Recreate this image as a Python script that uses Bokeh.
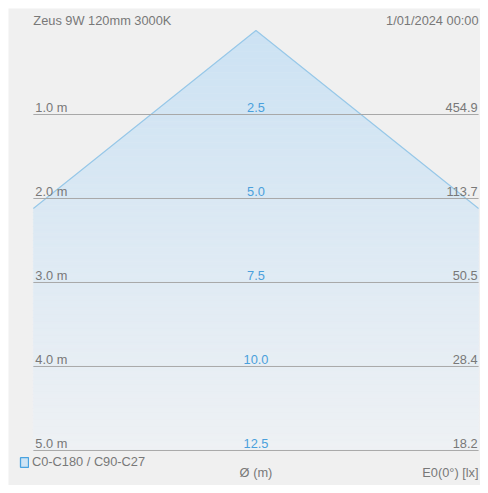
from bokeh.plotting import figure
from bokeh.models import Range1d, Label, ColumnDataSource, Legend, LegendItem
from bokeh.embed import file_html
from bokeh.resources import INLINE
from bokeh.core.properties import value

# ---- data ----
title = "Zeus 9W 120mm 3000K"
date_text = "1/01/2024 00:00"
distances = [1.0, 2.0, 3.0, 4.0, 5.0]                 # m
diameters = [2.5, 5.0, 7.5, 10.0, 12.5]               # Ø (m)
illuminance = [454.9, 113.7, 50.5, 28.4, 18.2]        # E0(0°) [lx]
distance_labels = ["1.0 m", "2.0 m", "3.0 m", "4.0 m", "5.0 m"]
diameter_labels = ["2.5", "5.0", "7.5", "10.0", "12.5"]
illum_labels = ["454.9", "113.7", "50.5", "28.4", "18.2"]
series_name = "C0-C180 / C90-C27"
x_axis_label = "Ø (m)"
y_axis_label = "E0(0°) [lx]"

# ---- layout ----
W = 2.65          # half width of drawing area (m)
FONT = "Liberation Sans"
FS = "12.8px"
BG = "#f0f0f0"
GREY = "#787878"

p = figure(width=472, height=477, output_backend="svg", toolbar_location=None,
           x_range=Range1d(-2.946, 2.673), y_range=Range1d(5.417, -0.262),
           min_border=0, background_fill_color=BG, border_fill_color=BG)
p.margin = (8, 8, 8, 8)
p.outline_line_color = None
p.axis.visible = False
p.grid.visible = False

k = diameters[0] / 2 / distances[0]   # radius per metre of depth
zmax = distances[-1]
zc = W / k

def half(z):
    return min(k * z, W)

# gradient fill as horizontal strips
N = 120
top = (204, 226, 243)
bot = (238, 241, 244)
xs, ys, cols = [], [], []
for i in range(N):
    za = zmax * i / N
    zb = zmax * (i + 1) / N
    zs = [za, zb]
    if za < zc < zb:
        zs = [za, zc, zb]
    right = [(half(z), z) for z in zs]
    left = [(-half(z), z) for z in reversed(zs)]
    pts = right + left
    xs.append([q[0] for q in pts])
    ys.append([q[1] for q in pts])
    t = (i + 0.5) / N
    c = tuple(int(round(top[j] + (bot[j] - top[j]) * t)) for j in range(3))
    cols.append("#%02x%02x%02x" % c)
p.patches(xs=xs, ys=ys, fill_color=cols, line_color=cols, line_width=0.5)

# cone edges
EDGE = "#98c8e8"
p.line(x=[-half(zc), 0, half(zc)], y=[zc, 0, zc], line_color=EDGE, line_width=1.2,
       line_join="round")

# distance lines
p.segment(x0=[-W] * len(distances), y0=distances, x1=[W] * len(distances), y1=distances,
          line_color="#a8a8a8", line_width=1)

src = ColumnDataSource(dict(d=distances, dl=distance_labels, dia=diameter_labels, il=illum_labels,
                            xl=[-W] * len(distances), xc=[0] * len(distances), xr=[W] * len(distances)))
common = dict(text_font=value(FONT), text_font_size=FS, text_baseline="alphabetic", y_offset=-7)
p.text(x="xl", y="d", text="dl", source=src, text_color=GREY, text_align="left", x_offset=2, **common)
p.text(x="xc", y="d", text="dia", source=src, text_color="#4aa0dc", text_align="center", **common)
p.text(x="xr", y="d", text="il", source=src, text_color=GREY, text_align="right", x_offset=-1, **common)

# header / footer
def lab(x, y, t, align):
    p.add_layout(Label(x=x, y=y, text=t, text_font=FONT, text_font_size=FS,
                       text_color=GREY, text_align=align, text_baseline="alphabetic"))

lab(-W, -0.119, title, "left")
lab(W, -0.119, date_text, "right")
lab(0, 5.264, x_axis_label, "center")
lab(W, 5.264, y_axis_label, "right")

# legend
nan = float("nan")
dummy = p.quad(left=[nan], right=[nan], top=[nan], bottom=[nan], fill_color="#cfe4f4",
               line_color="#4aa3e0", line_width=1.3)
legend = Legend(items=[LegendItem(label=series_name, renderers=[dummy])],
                location=(11, 16), orientation="horizontal", padding=0, margin=0,
                spacing=0, glyph_width=10, glyph_height=12, label_height=12, label_standoff=3,
                label_text_font=FONT, label_text_font_size=FS, label_text_color=GREY,
                label_text_baseline="middle",
                background_fill_alpha=0, border_line_color=None)
p.add_layout(legend, "center")

open("out.html", "w").write(file_html(p, INLINE))
